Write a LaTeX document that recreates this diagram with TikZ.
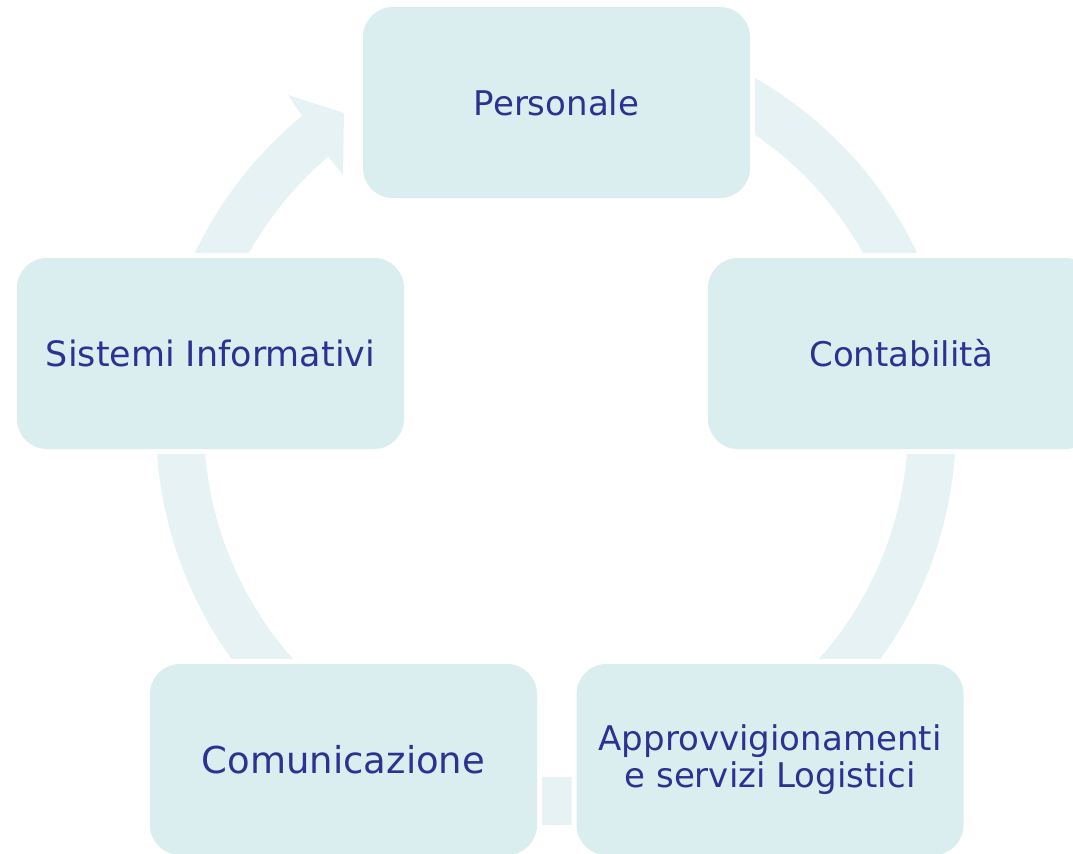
\documentclass[tikz,border=0pt]{standalone}
\usepackage{fontspec}
\setmainfont{DejaVu Sans}
\usetikzlibrary{calc}
\definecolor{boxc}{HTML}{DAEDEF}
\definecolor{bandc}{HTML}{E6F2F3}
\definecolor{txtc}{HTML}{2E3192}
\begin{document}
\begin{tikzpicture}[x=0.75pt,y=-0.75pt,
  box/.style={rectangle, rounded corners=22.5pt, fill=boxc,
    minimum width=290.25pt, minimum height=143.25pt, inner sep=0pt,
    preaction={draw=white, line width=7.5pt},
    text=txtc, align=center, font=\fontsize{25.5pt}{28pt}\selectfont},
  band/.style={fill=bandc}]
\useasboundingbox (0,0) rectangle (1073,853);
\clip (0,0) rectangle (1073,853);
\coordinate (c) at (556,425);
% ring segments
\fill[band] ($(c)+(-65:400)$) arc[start angle=-65, end angle=-15, radius=400]
  -- ($(c)+(-15:352)$) arc[start angle=-15, end angle=-65, radius=352] -- cycle;
\fill[band] ($(c)+(0:400)$) arc[start angle=0, end angle=50, radius=400]
  -- ($(c)+(50:352)$) arc[start angle=50, end angle=0, radius=352] -- cycle;
\fill[band] ($(c)+(80:400)$) arc[start angle=80, end angle=100, radius=400]
  -- ($(c)+(100:352)$) arc[start angle=100, end angle=80, radius=352] -- cycle;
\fill[band] ($(c)+(130:400)$) arc[start angle=130, end angle=180, radius=400]
  -- ($(c)+(180:352)$) arc[start angle=180, end angle=130, radius=352] -- cycle;
% arrow segment ending in the head
\coordinate (ob) at (288,95);
\coordinate (tip) at (344,113);
\coordinate (ib) at (343,175);
\fill[band] ($(c)+(-165:400)$) arc[start angle=-165, end angle=-129.4, radius=400]
  -- (ob) -- (tip) -- (ib) -- ($(c)+(-130.3:352)$)
  arc[start angle=-130.3, end angle=-165, radius=352] -- cycle;
% boxes
\node[box] (pers) at (556.5,102.5) {Personale};
\node[box] (cont) at (901.5,353.5) {Contabilità};
\node[box] (appr) at (770,759.5) {Approvvigionamenti\\e servizi Logistici};
\node[box, font=\fontsize{27.75pt}{30pt}\selectfont] (comu) at (343.5,759.5) {Comunicazione};
\node[box, font=\fontsize{26.2pt}{28pt}\selectfont] (sist) at (210.5,353.5) {Sistemi Informativi};
\end{tikzpicture}
\end{document}
